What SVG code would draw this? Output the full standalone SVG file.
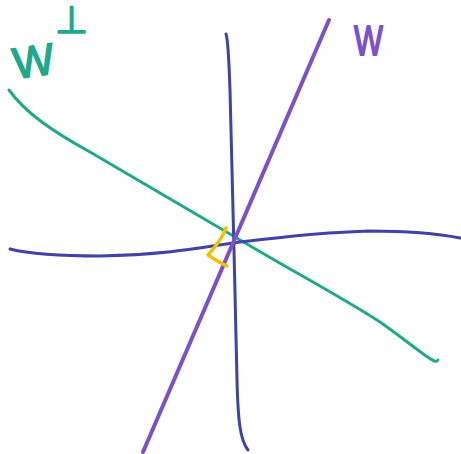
<svg xmlns="http://www.w3.org/2000/svg" width="461" height="454" viewBox="0 0 461 454">
<style>
.ln{fill:none;stroke-linecap:round;stroke-linejoin:round}
.lbl{font-family:"Liberation Sans",Arial,sans-serif;stroke-width:1.5;stroke-linejoin:round}
</style>
<rect width="461" height="454" fill="#ffffff"/>
<g id="line-wperp">
<path class="ln" d="M9,90 C25,112 50,130 90,152 L230,234 C290,270 340,296 380,322 C400,336 412,346 426,356 C432,360 436,363 438,360" stroke="#1ea98a" stroke-width="3"/>
</g>
<g id="axis-horizontal">
<path class="ln" d="M10,249 C30,254 60,256 100,256 C160,255 200,248 240,242 C290,236 330,232 370,231 C410,231 440,234 460,238" stroke="#3f42a6" stroke-width="3"/>
</g>
<g id="axis-vertical">
<path class="ln" d="M226,34 C228,40 229,60 230,90 L234,250 L237,380 C238,420 240,440 248,450" stroke="#3f42a6" stroke-width="3"/>
</g>
<g id="line-w">
<path class="ln" d="M329,20 L143,452" stroke="#7b50cc" stroke-width="4"/>
</g>
<g id="right-angle">
<path class="ln" d="M226,228 C222,240 214,248 208,255 C214,259 220,263 227,266" stroke="#f5c000" stroke-width="3.5"/>
</g>
<g id="label-wperp">
<text class="lbl" transform="translate(15,79) rotate(-8)" font-size="44" fill="#1ea98a" stroke="#1ea98a">W</text>
<text class="lbl" x="55" y="33" font-size="38" fill="#1ea98a" stroke="#1ea98a">⊥</text>
</g>
<g id="label-w">
<text class="lbl" transform="translate(354,55) scale(0.85,1.2)" font-size="36" fill="#7b50cc" stroke="#7b50cc">W</text>
</g>
</svg>
